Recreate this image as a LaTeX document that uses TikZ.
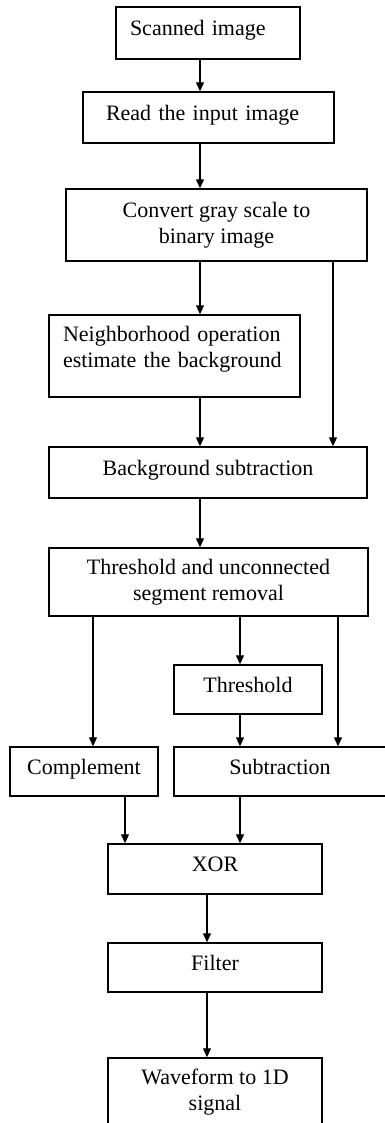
\documentclass[tikz,border=0pt]{standalone}
\usepackage{fontspec}
\setmainfont{Liberation Serif}
\usetikzlibrary{arrows.meta}

\tikzset{
  box/.style={draw, rectangle, line width=0.7pt, inner sep=0pt, align=center},
  oneline/.style={text height=7.7pt, text depth=5pt},
  flow/.style={line width=0.6pt, -{Triangle[width=4pt,length=4.5pt]}}
}

\begin{document}
\begin{tikzpicture}[x=0.5pt,y=-0.5pt,font=\fontsize{11}{13}\selectfont]
   \useasboundingbox (0,0) rectangle (385,1123);
   \clip (0,0) rectangle (385,1123);

   \node[box, oneline, minimum width=92pt, minimum height=26pt, text width=78pt, align=left] (scan) at (208,33) {Scanned image};
   \node[box, oneline, minimum width=125.5pt, minimum height=25.5pt, text width=102.5pt, align=left] (read) at (208.5,117.5) {Read the input image};
   \node[box, minimum width=150.5pt, minimum height=36pt] (conv) at (216.5,225) {Convert gray scale to\\binary image};
   \node[box, minimum width=125.5pt, minimum height=41pt, text width=111.5pt, align=left, text depth=22pt] (neigh) at (174.5,356) {Neighborhood operation\\estimate the background};
   \node[box, oneline, minimum width=159pt, minimum height=25.5pt] (bsub) at (208,472.5) {Background subtraction};
   \node[box, minimum width=159.5pt, minimum height=34pt] (segm) at (208.5,582) {Threshold and unconnected\\segment removal};
   \node[box, oneline, minimum width=74pt, minimum height=24.5pt] (thr) at (248,689.5) {Threshold};
   \node[box, oneline, minimum width=74pt, minimum height=24.5pt] (comp) at (84,771.5) {Complement};
   \node[box, oneline, minimum width=106pt, minimum height=24.5pt] (subt) at (280,771.5) {Subtraction};
   \node[box, oneline, minimum width=107pt, minimum height=25pt] (xor) at (215,869) {XOR};
   \node[box, oneline, minimum width=107pt, minimum height=24.5pt] (filt) at (215,967.5) {Filter};
   \node[box, minimum width=107pt, minimum height=34pt] (wave) at (215,1092) {Waveform to 1D\\signal};

   % columns of the connectors
   \coordinate (c1) at (200,0);
   \coordinate (c2) at (333,0);
   \coordinate (c3) at (93,0);
   \coordinate (c4) at (240,0);
   \coordinate (c5) at (338,0);
   \coordinate (c6) at (125,0);
   \coordinate (c7) at (207,0);

   \draw[flow] (scan.south -| c1) -- (read.north -| c1);
   \draw[flow] (read.south -| c1) -- (conv.north -| c1);
   \draw[flow] (conv.south -| c1) -- (neigh.north -| c1);
   \draw[flow] (neigh.south -| c1) -- (bsub.north -| c1);
   \draw[flow] (conv.south -| c2) -- (bsub.north -| c2);
   \draw[flow] (bsub.south -| c1) -- (segm.north -| c1);

   \draw[flow] (segm.south -| c3) -- (comp.north -| c3);
   \draw[flow] (segm.south -| c4) -- (thr.north -| c4);
   \draw[flow] (thr.south -| c4) -- (subt.north -| c4);
   \draw[flow] (segm.south -| c5) -- (subt.north -| c5);

   \draw[flow] (comp.south -| c6) -- (xor.north -| c6);
   \draw[flow] (subt.south -| c4) -- (xor.north -| c4);
   \draw[flow] (xor.south -| c7) -- (filt.north -| c7);
   \draw[flow] (filt.south -| c7) -- (wave.north -| c7);
\end{tikzpicture}
\end{document}
